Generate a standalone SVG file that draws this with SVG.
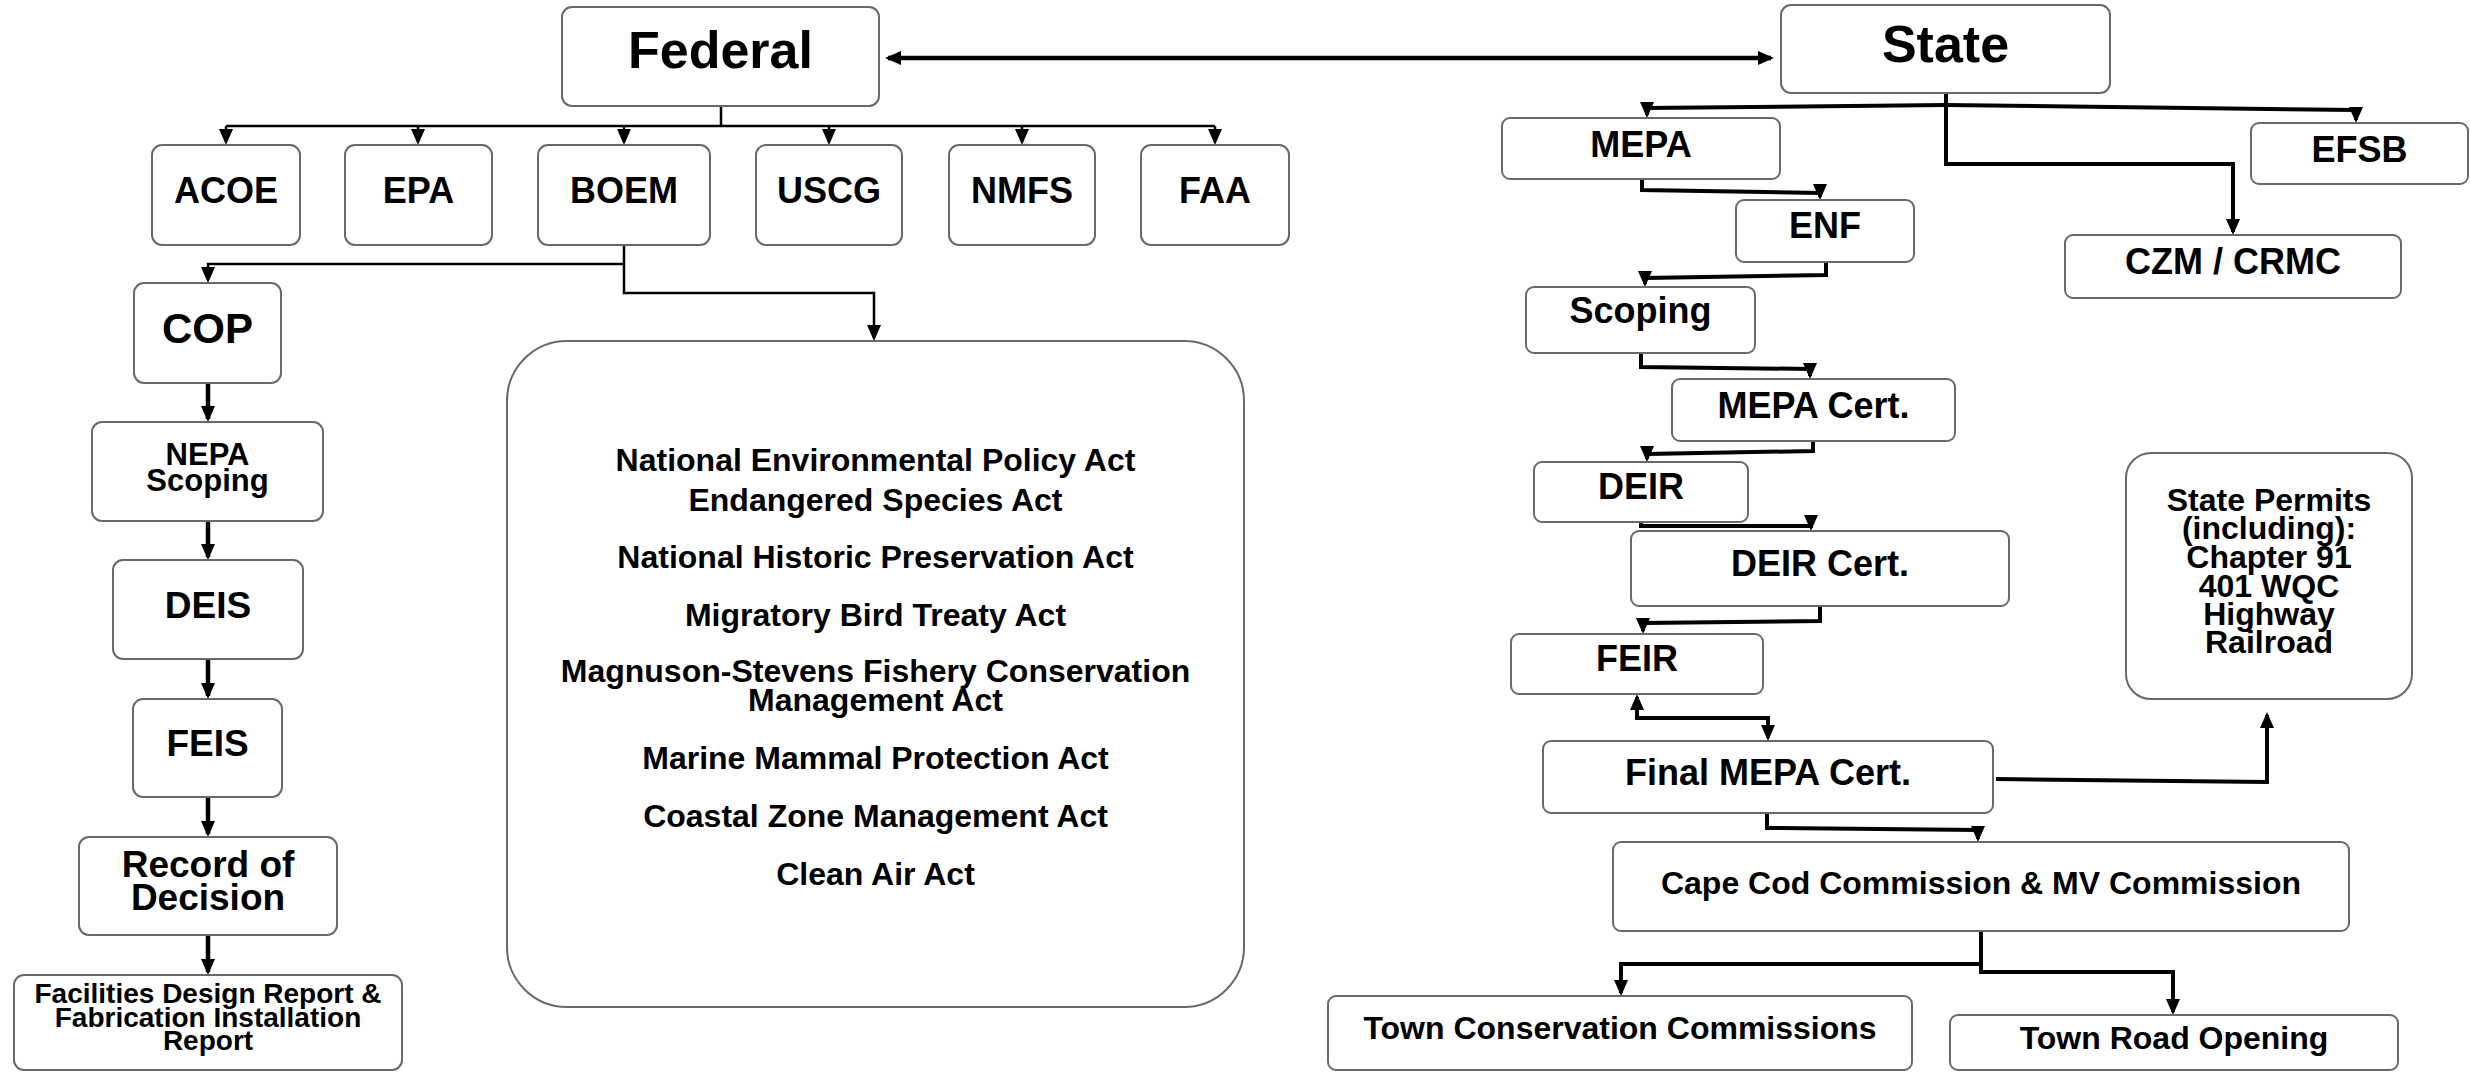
<svg xmlns="http://www.w3.org/2000/svg" width="2470" height="1072" viewBox="0 0 2470 1072">
<defs>
<style>
.box{fill:#fff;stroke:#6e6767;stroke-width:2}
text{font-family:"Liberation Sans",Arial,Helvetica,sans-serif;font-weight:bold;text-anchor:middle;fill:#000}
.c{fill:none;stroke:#000;stroke-linejoin:miter}
.t{stroke-width:2.5}
.k{stroke-width:4.5}
.r{stroke-width:4}
</style>
<marker id="ah" viewBox="0 0 16 14" markerWidth="16" markerHeight="14" refX="13" refY="7" orient="auto-start-reverse" markerUnits="userSpaceOnUse">
<path d="M0,0L16,7L0,14z" fill="#000"/>
</marker>
</defs>

<g id="connectors">
<path class="c k" d="M888,58H1771" marker-start="url(#ah)" marker-end="url(#ah)"/>
<path class="c t" d="M721,106V126M226,126H1215"/>
<path class="c t" d="M226,126V142" marker-end="url(#ah)"/>
<path class="c t" d="M418,126V142" marker-end="url(#ah)"/>
<path class="c t" d="M624,126V142" marker-end="url(#ah)"/>
<path class="c t" d="M829,126V142" marker-end="url(#ah)"/>
<path class="c t" d="M1022,126V142" marker-end="url(#ah)"/>
<path class="c t" d="M1215,126V142" marker-end="url(#ah)"/>
<path class="c t" d="M624,245V293H874V338" marker-end="url(#ah)"/>
<path class="c t" d="M624,264H208V280" marker-end="url(#ah)"/>
<path class="c k" d="M208,383V419" marker-end="url(#ah)"/>
<path class="c k" d="M208,521V557" marker-end="url(#ah)"/>
<path class="c k" d="M208,659V696" marker-end="url(#ah)"/>
<path class="c k" d="M208,797V834" marker-end="url(#ah)"/>
<path class="c k" d="M208,935V972" marker-end="url(#ah)"/>

<path class="c r" d="M1946,93V164H2233V232" marker-end="url(#ah)"/>
<path class="c r" d="M1946,105L1647,108V115" marker-end="url(#ah)"/>
<path class="c r" d="M1946,105L2356,110V120" marker-end="url(#ah)"/>
<path class="c r" d="M1642,179V190L1820,193V197" marker-end="url(#ah)"/>
<path class="c r" d="M1826,262V275L1645,278V284" marker-end="url(#ah)"/>
<path class="c r" d="M1641,353V367L1810,369V376" marker-end="url(#ah)"/>
<path class="c r" d="M1813,441V451L1647,454V459" marker-end="url(#ah)"/>
<path class="c r" d="M1641,522V526H1811V528" marker-end="url(#ah)"/>
<path class="c r" d="M1820,606V621L1643,623V631" marker-end="url(#ah)"/>
<path class="c r" d="M1637,697V718H1768V738" marker-start="url(#ah)" marker-end="url(#ah)"/>
<path class="c r" d="M1996,779L2267,782V715" marker-end="url(#ah)"/>
<path class="c r" d="M1767,813V828L1978,830V839" marker-end="url(#ah)"/>
<path class="c r" d="M1981,931V972H2173V1012" marker-end="url(#ah)"/>
<path class="c r" d="M1981,964H1621V993" marker-end="url(#ah)"/>
</g>

<g id="federal"><rect class="box" x="562" y="7" width="317" height="99" rx="10"/><text x="720.5" y="68" font-size="52">Federal</text></g>
<g id="state"><rect class="box" x="1781" y="5" width="329" height="88" rx="10"/><text x="1945.5" y="62" font-size="52">State</text></g>

<g id="acoe"><rect class="box" x="152" y="145" width="148" height="100" rx="10"/><text x="226" y="203" font-size="36">ACOE</text></g>
<g id="epa"><rect class="box" x="345" y="145" width="147" height="100" rx="10"/><text x="418.5" y="203" font-size="36">EPA</text></g>
<g id="boem"><rect class="box" x="538" y="145" width="172" height="100" rx="10"/><text x="624" y="203" font-size="36">BOEM</text></g>
<g id="uscg"><rect class="box" x="756" y="145" width="146" height="100" rx="10"/><text x="829" y="203" font-size="36">USCG</text></g>
<g id="nmfs"><rect class="box" x="949" y="145" width="146" height="100" rx="10"/><text x="1022" y="203" font-size="36">NMFS</text></g>
<g id="faa"><rect class="box" x="1141" y="145" width="148" height="100" rx="10"/><text x="1215" y="203" font-size="36">FAA</text></g>

<g id="cop"><rect class="box" x="134" y="283" width="147" height="100" rx="10"/><text x="207.5" y="343" font-size="42">COP</text></g>
<g id="nepa-scoping"><rect class="box" x="92" y="422" width="231" height="99" rx="10"/><text x="207.5" y="465" font-size="31">NEPA</text><text x="207.5" y="491" font-size="31">Scoping</text></g>
<g id="deis"><rect class="box" x="113" y="560" width="190" height="99" rx="10"/><text x="208" y="618" font-size="37">DEIS</text></g>
<g id="feis"><rect class="box" x="133" y="699" width="149" height="98" rx="10"/><text x="207.5" y="756" font-size="37">FEIS</text></g>
<g id="record"><rect class="box" x="79" y="837" width="258" height="98" rx="10"/><text x="208" y="877" font-size="37">Record of</text><text x="208" y="910" font-size="37">Decision</text></g>
<g id="facilities"><rect class="box" x="14" y="975" width="388" height="95" rx="10"/><text x="208" y="1003" font-size="28">Facilities Design Report &amp;</text><text x="208" y="1027" font-size="28">Fabrication Installation</text><text x="208" y="1050" font-size="28">Report</text></g>

<g id="acts"><rect class="box" x="507" y="341" width="737" height="666" rx="60"/>
<g font-size="32">
<text x="875.5" y="471">National Environmental Policy Act</text>
<text x="875.5" y="511">Endangered Species Act</text>
<text x="875.5" y="568">National Historic Preservation Act</text>
<text x="875.5" y="626">Migratory Bird Treaty Act</text>
<text x="875.5" y="682">Magnuson-Stevens Fishery Conservation</text>
<text x="875.5" y="711">Management Act</text>
<text x="875.5" y="769">Marine Mammal Protection Act</text>
<text x="875.5" y="827">Coastal Zone Management Act</text>
<text x="875.5" y="885">Clean Air Act</text>
</g></g>

<g id="mepa"><rect class="box" x="1502" y="118" width="278" height="61" rx="8"/><text x="1641" y="157" font-size="36">MEPA</text></g>
<g id="efsb"><rect class="box" x="2251" y="123" width="217" height="61" rx="8"/><text x="2359.5" y="162" font-size="36">EFSB</text></g>
<g id="enf"><rect class="box" x="1736" y="200" width="178" height="62" rx="8"/><text x="1825" y="238" font-size="36">ENF</text></g>
<g id="czm"><rect class="box" x="2065" y="235" width="336" height="63" rx="8"/><text x="2233" y="274" font-size="36">CZM / CRMC</text></g>
<g id="scoping"><rect class="box" x="1526" y="287" width="229" height="66" rx="8"/><text x="1640.5" y="323" font-size="36">Scoping</text></g>
<g id="mepa-cert"><rect class="box" x="1672" y="379" width="283" height="62" rx="8"/><text x="1813.5" y="418" font-size="36">MEPA Cert.</text></g>
<g id="deir"><rect class="box" x="1534" y="462" width="214" height="60" rx="8"/><text x="1641" y="499" font-size="36">DEIR</text></g>
<g id="deir-cert"><rect class="box" x="1631" y="531" width="378" height="75" rx="8"/><text x="1820" y="576" font-size="36">DEIR Cert.</text></g>
<g id="feir"><rect class="box" x="1511" y="634" width="252" height="60" rx="8"/><text x="1637" y="671" font-size="36">FEIR</text></g>
<g id="final-mepa"><rect class="box" x="1543" y="741" width="450" height="72" rx="8"/><text x="1768" y="785" font-size="36">Final MEPA Cert.</text></g>
<g id="state-permits"><rect class="box" x="2126" y="453" width="286" height="246" rx="25"/>
<g font-size="32"><text x="2269" y="511">State Permits</text><text x="2269" y="539">(including):</text><text x="2269" y="568">Chapter 91</text><text x="2269" y="597">401 WQC</text><text x="2269" y="625">Highway</text><text x="2269" y="653">Railroad</text></g></g>
<g id="cape-cod"><rect class="box" x="1613" y="842" width="736" height="89" rx="8"/><text x="1981" y="894" font-size="32">Cape Cod Commission &amp; MV Commission</text></g>
<g id="town-conservation"><rect class="box" x="1328" y="996" width="584" height="74" rx="8"/><text x="1620" y="1039" font-size="32">Town Conservation Commissions</text></g>
<g id="town-road"><rect class="box" x="1950" y="1015" width="448" height="55" rx="8"/><text x="2174" y="1049" font-size="32">Town Road Opening</text></g>
</svg>
